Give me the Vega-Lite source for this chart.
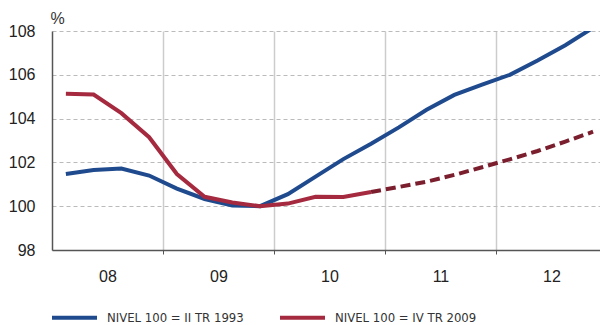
{
  "$schema": "https://vega.github.io/schema/vega-lite/v6.json",
  "width": 548,
  "height": 219,
  "autosize": {"type": "none"},
  "padding": {"left": 52, "top": 31, "right": 0, "bottom": 75},
  "background": "white",
  "config": {
    "view": {"stroke": null},
    "font": "Liberation Sans",
    "axis": {"labelFont": "Liberation Sans", "labelColor": "#222", "labelFontSize": 16, "domainColor": "#555", "domainWidth": 1.5}
  },
  "data": {
    "values": [
      {"q": 0, "s": "NIVEL 100 = II TR 1993", "t": "a", "v": 101.47},
      {"q": 1, "s": "NIVEL 100 = II TR 1993", "t": "a", "v": 101.65},
      {"q": 2, "s": "NIVEL 100 = II TR 1993", "t": "a", "v": 101.72},
      {"q": 3, "s": "NIVEL 100 = II TR 1993", "t": "a", "v": 101.4},
      {"q": 4, "s": "NIVEL 100 = II TR 1993", "t": "a", "v": 100.8},
      {"q": 5, "s": "NIVEL 100 = II TR 1993", "t": "a", "v": 100.33},
      {"q": 6, "s": "NIVEL 100 = II TR 1993", "t": "a", "v": 100.03},
      {"q": 7, "s": "NIVEL 100 = II TR 1993", "t": "a", "v": 100.0},
      {"q": 8, "s": "NIVEL 100 = II TR 1993", "t": "a", "v": 100.55},
      {"q": 9, "s": "NIVEL 100 = II TR 1993", "t": "a", "v": 101.35},
      {"q": 10, "s": "NIVEL 100 = II TR 1993", "t": "a", "v": 102.15},
      {"q": 11, "s": "NIVEL 100 = II TR 1993", "t": "a", "v": 102.85},
      {"q": 12, "s": "NIVEL 100 = II TR 1993", "t": "a", "v": 103.6},
      {"q": 13, "s": "NIVEL 100 = II TR 1993", "t": "a", "v": 104.4},
      {"q": 14, "s": "NIVEL 100 = II TR 1993", "t": "a", "v": 105.08},
      {"q": 15, "s": "NIVEL 100 = II TR 1993", "t": "a", "v": 105.55},
      {"q": 16, "s": "NIVEL 100 = II TR 1993", "t": "a", "v": 106.0},
      {"q": 17, "s": "NIVEL 100 = II TR 1993", "t": "a", "v": 106.65},
      {"q": 18, "s": "NIVEL 100 = II TR 1993", "t": "a", "v": 107.35},
      {"q": 19, "s": "NIVEL 100 = II TR 1993", "t": "a", "v": 108.15},
      {"q": 0, "s": "NIVEL 100 = IV TR 2009", "t": "a", "v": 105.13},
      {"q": 1, "s": "NIVEL 100 = IV TR 2009", "t": "a", "v": 105.1},
      {"q": 2, "s": "NIVEL 100 = IV TR 2009", "t": "a", "v": 104.25},
      {"q": 3, "s": "NIVEL 100 = IV TR 2009", "t": "a", "v": 103.15},
      {"q": 4, "s": "NIVEL 100 = IV TR 2009", "t": "a", "v": 101.47},
      {"q": 5, "s": "NIVEL 100 = IV TR 2009", "t": "a", "v": 100.43},
      {"q": 6, "s": "NIVEL 100 = IV TR 2009", "t": "a", "v": 100.17},
      {"q": 7, "s": "NIVEL 100 = IV TR 2009", "t": "a", "v": 100.0},
      {"q": 8, "s": "NIVEL 100 = IV TR 2009", "t": "a", "v": 100.12},
      {"q": 9, "s": "NIVEL 100 = IV TR 2009", "t": "a", "v": 100.43},
      {"q": 10, "s": "NIVEL 100 = IV TR 2009", "t": "a", "v": 100.42},
      {"q": 11, "s": "NIVEL 100 = IV TR 2009", "t": "a", "v": 100.65},
      {"q": 11, "s": "NIVEL 100 = IV TR 2009", "t": "p", "v": 100.65},
      {"q": 12, "s": "NIVEL 100 = IV TR 2009", "t": "p", "v": 100.88},
      {"q": 13, "s": "NIVEL 100 = IV TR 2009", "t": "p", "v": 101.12},
      {"q": 14, "s": "NIVEL 100 = IV TR 2009", "t": "p", "v": 101.43},
      {"q": 15, "s": "NIVEL 100 = IV TR 2009", "t": "p", "v": 101.78},
      {"q": 16, "s": "NIVEL 100 = IV TR 2009", "t": "p", "v": 102.14},
      {"q": 17, "s": "NIVEL 100 = IV TR 2009", "t": "p", "v": 102.52},
      {"q": 18, "s": "NIVEL 100 = IV TR 2009", "t": "p", "v": 102.95},
      {"q": 19, "s": "NIVEL 100 = IV TR 2009", "t": "p", "v": 103.4}
    ]
  },
  "encoding": {
    "x": {
      "field": "q", "type": "quantitative",
      "scale": {"domain": [-0.5, 19.25], "nice": false, "zero": false},
      "axis": {
        "title": null,
        "values": [1.5, 3.5, 5.5, 7.5, 9.5, 11.5, 13.5, 15.5, 17.5],
        "labelExpr": "(datum.value - 1.5) % 4 == 0 ? ['08','09','10','11','12'][(datum.value - 1.5) / 4] : ''",
        "labelPadding": 14,
        "labelFlush": false,
        "labelOverlap": false,
        "grid": true,
        "gridColor": "#cccccc",
        "gridWidth": 1.5,
        "gridOpacity": {"condition": {"test": "(datum.value - 3.5) % 4 == 0", "value": 1}, "value": 0},
        "tickColor": "#555",
        "tickSize": 4,
        "tickOpacity": {"condition": {"test": "(datum.value - 3.5) % 4 == 0", "value": 1}, "value": 0}
      }
    },
    "y": {
      "field": "v", "type": "quantitative",
      "scale": {"domain": [98, 108], "nice": false, "zero": false},
      "axis": {
        "values": [98, 100, 102, 104, 106, 108],
        "title": "%",
        "titleAngle": 0,
        "titleAlign": "left",
        "titleBaseline": "alphabetic",
        "titleX": -2,
        "titleY": -8,
        "titleFontSize": 16,
        "titleFontWeight": "normal",
        "titleColor": "#333",
        "ticks": false,
        "labelPadding": 17,
        "grid": true,
        "gridColor": "#bbbbbb",
        "gridDash": [4, 3],
        "gridWidth": 1
      }
    }
  },
  "layer": [
    {
      "transform": [{"filter": "datum.t == 'a'"}],
      "mark": {"type": "line", "strokeWidth": 4, "clip": true},
      "encoding": {
        "color": {
          "field": "s", "type": "nominal",
          "scale": {"domain": ["NIVEL 100 = II TR 1993", "NIVEL 100 = IV TR 2009"], "range": ["#1f4b8e", "#a52a3f"]},
          "legend": {
            "title": null,
            "orient": "none",
            "direction": "horizontal",
            "legendX": -2,
            "legendY": 262,
            "symbolType": "stroke",
            "symbolSize": 2025,
            "symbolStrokeWidth": 4,
            "labelFont": "DejaVu Sans Condensed",
            "labelFontSize": 13,
            "labelColor": "#333",
            "labelOffset": 8,
            "columnPadding": 28
          }
        },
        "detail": {"field": "s"}
      }
    },
    {
      "transform": [{"filter": "datum.t == 'p'"}],
      "mark": {"type": "line", "strokeWidth": 4, "strokeDash": [10, 5], "color": "#7b1e2e", "clip": true}
    }
  ]
}
